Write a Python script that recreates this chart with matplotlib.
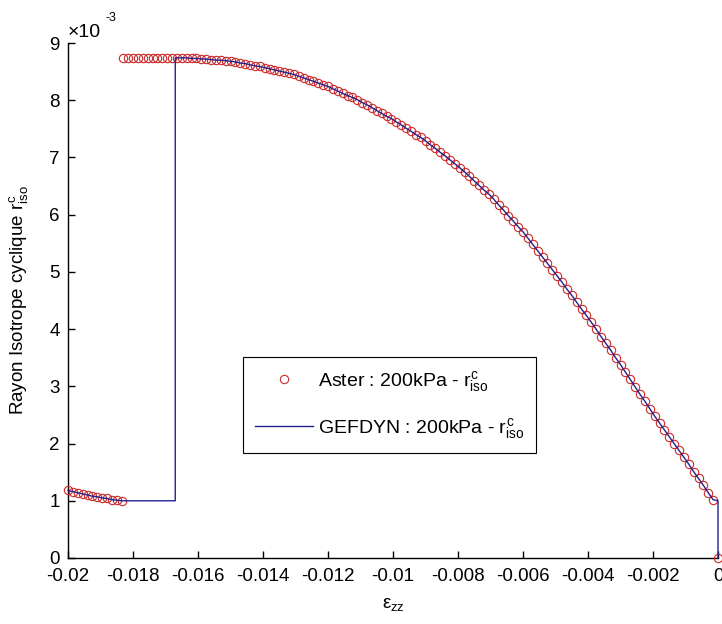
import numpy as np
import matplotlib
matplotlib.use("Agg")
import matplotlib.pyplot as plt

plt.rcParams['font.family'] = ['Liberation Sans', 'DejaVu Sans']
plt.rcParams['mathtext.fontset'] = 'custom'
plt.rcParams['mathtext.rm'] = 'Liberation Sans'
plt.rcParams['mathtext.it'] = 'Liberation Sans'
plt.rcParams['mathtext.bf'] = 'Liberation Sans:bold'
plt.rcParams['axes.unicode_minus'] = False

# ---------- Données (r en 1e-3) ----------
# Aster : début du chargement
aster_x_debut = [-0.02, -0.01985, -0.0197, -0.01955, -0.0194, -0.01925,
                 -0.0191, -0.01895, -0.0188, -0.01865, -0.0185, -0.01835]
aster_y_debut = [1.18, 1.16, 1.14, 1.12, 1.10, 1.08, 1.07, 1.05, 1.04, 1.02, 1.01, 1.00]

# Aster : palier haut
aster_x_palier = [-0.0183, -0.01815, -0.018, -0.01785, -0.0177, -0.01755,
                  -0.0174, -0.01725, -0.0171, -0.01695, -0.0168]
aster_y_palier = [8.74, 8.74, 8.74, 8.74, 8.74, 8.74, 8.74, 8.74, 8.74, 8.74, 8.74]

# courbe commune Aster / GEFDYN
courbe_x = [-0.01665, -0.0165, -0.01635, -0.0162, -0.01605, -0.0159, -0.01575, -0.0156,
            -0.01545, -0.0153, -0.01515, -0.015, -0.01485, -0.0147, -0.01455, -0.0144,
            -0.01425, -0.0141, -0.01395, -0.0138, -0.01365, -0.0135, -0.01335, -0.0132,
            -0.01305, -0.0129, -0.01275, -0.0126, -0.01245, -0.0123, -0.01215, -0.012,
            -0.01185, -0.0117, -0.01155, -0.0114, -0.01125, -0.0111, -0.01095, -0.0108,
            -0.01065, -0.0105, -0.01035, -0.0102, -0.01005, -0.0099, -0.00975, -0.0096,
            -0.00945, -0.0093, -0.00915, -0.009, -0.00885, -0.0087, -0.00855, -0.0084,
            -0.00825, -0.0081, -0.00795, -0.0078, -0.00765, -0.0075, -0.00735, -0.0072,
            -0.00705, -0.0069, -0.00675, -0.0066, -0.00645, -0.0063, -0.00615, -0.006,
            -0.00585, -0.0057, -0.00555, -0.0054, -0.00525, -0.0051, -0.00495, -0.0048,
            -0.00465, -0.0045, -0.00435, -0.0042, -0.00405, -0.0039, -0.00375, -0.0036,
            -0.00345, -0.0033, -0.00315, -0.003, -0.00285, -0.0027, -0.00255, -0.0024,
            -0.00225, -0.0021, -0.00195, -0.0018, -0.00165, -0.0015, -0.00135, -0.0012,
            -0.00105, -0.0009, -0.00075, -0.0006, -0.00045, -0.0003, -0.00015]
courbe_y = [8.74, 8.74, 8.74, 8.73, 8.73, 8.72, 8.72, 8.71,
            8.70, 8.70, 8.69, 8.68, 8.67, 8.65, 8.64, 8.62,
            8.60, 8.59, 8.57, 8.55, 8.53, 8.51, 8.49, 8.47,
            8.45, 8.42, 8.39, 8.36, 8.33, 8.30, 8.27, 8.24,
            8.20, 8.16, 8.12, 8.08, 8.05, 8.01, 7.96, 7.92,
            7.87, 7.82, 7.77, 7.72, 7.68, 7.62, 7.57, 7.51,
            7.46, 7.40, 7.35, 7.29, 7.22, 7.16, 7.09, 7.03,
            6.96, 6.89, 6.82, 6.75, 6.67, 6.59, 6.51, 6.43,
            6.36, 6.27, 6.17, 6.08, 5.98, 5.89, 5.79, 5.70,
            5.59, 5.48, 5.37, 5.26, 5.15, 5.04, 4.93, 4.82,
            4.70, 4.59, 4.47, 4.35, 4.24, 4.12, 4.00, 3.87,
            3.75, 3.63, 3.50, 3.38, 3.25, 3.12, 2.99, 2.86,
            2.74, 2.61, 2.48, 2.36, 2.24, 2.12, 2.00, 1.88,
            1.76, 1.64, 1.51, 1.39, 1.27, 1.14, 1.02]

aster_x_fin = [0.0]
aster_y_fin = [0.0]

# GEFDYN : marche entre le début et la courbe, puis chute finale
gef_x_marche = [-0.0167, -0.0167]
gef_y_marche = [1.00, 8.74]
gef_x_fin = [0.0, 0.0]
gef_y_fin = [1.00, 0.0]

xticks = [-0.02, -0.018, -0.016, -0.014, -0.012, -0.01, -0.008, -0.006, -0.004, -0.002, 0]
xtick_labels = ['-0.02', '-0.018', '-0.016', '-0.014', '-0.012', '-0.01',
                '-0.008', '-0.006', '-0.004', '-0.002', '0']
yticks = [0, 1, 2, 3, 4, 5, 6, 7, 8, 9]

aster_x = aster_x_debut + aster_x_palier + courbe_x + aster_x_fin
aster_y = aster_y_debut + aster_y_palier + courbe_y + aster_y_fin
gef_x = aster_x_debut + gef_x_marche + courbe_x + gef_x_fin
gef_y = aster_y_debut + gef_y_marche + courbe_y + gef_y_fin

# ---------- Figure ----------
fig = plt.figure(figsize=(7.22, 6.24), dpi=100)
ax = fig.add_axes([68 / 722, 66 / 624, 650 / 722, 515 / 624])

ax.plot(aster_x, aster_y, linestyle='none', marker='o', markersize=6,
        markerfacecolor='none', markeredgecolor='#cc2a2a', markeredgewidth=0.8,
        clip_on=False, label='Aster : 200kPa - $r^c_{iso}$', zorder=3)
ax.plot(gef_x, gef_y, color='#22228f', linewidth=1.0, clip_on=False,
        label='GEFDYN : 200kPa - $r^c_{iso}$', zorder=4)

ax.set_xlim(-0.02, 0)
ax.set_ylim(0, 9)
ax.set_xticks(xticks)
ax.set_xticklabels(xtick_labels)
ax.set_yticks(yticks)

for s in ['top', 'right']:
    ax.spines[s].set_visible(False)
for s in ['left', 'bottom']:
    ax.spines[s].set_linewidth(1.0)
ax.tick_params(direction='in', length=5, width=1.0, labelsize=13.5)
ax.tick_params(axis='x', pad=7)
ax.tick_params(axis='y', pad=6)

ax.set_xlabel('$ε_{zz}$', fontsize=13.5, labelpad=8)
ax.set_ylabel('Rayon Isotrope cyclique $r^c_{iso}$', fontsize=13.5, labelpad=14)

# facteur d'échelle façon MATLAB
ax.text(0.0, 1.012, '×10', transform=ax.transAxes, fontsize=14, ha='left', va='baseline')
ax.text(0.058, 1.043, '-3', transform=ax.transAxes, fontsize=9, ha='left', va='baseline')

leg = ax.legend(loc='upper left', bbox_to_anchor=(0.269, 0.390), borderaxespad=0,
                fontsize=14, fancybox=False, framealpha=1, edgecolor='black',
                handlelength=3.0, labelspacing=1.12, borderpad=0.62, handletextpad=0.25)
leg.get_frame().set_linewidth(0.8)

fig.savefig('out.png', dpi=100)
